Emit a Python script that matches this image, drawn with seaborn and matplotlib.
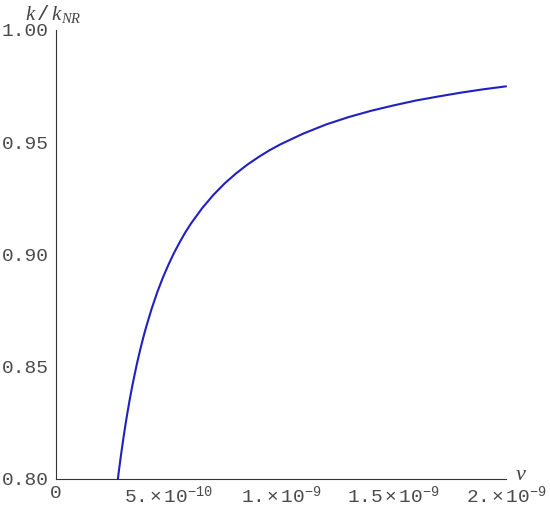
import matplotlib
matplotlib.use("Agg")
import matplotlib.pyplot as plt
from matplotlib.ticker import MultipleLocator
import pandas as pd
import seaborn as sns

# values (v in units of 1e-10)
v_e10 = [2.75, 2.8, 2.9, 3.0, 3.1, 3.2, 3.3, 3.4, 3.5, 3.6, 3.7, 3.8, 3.9, 4.0,
         4.25, 4.5, 4.75, 5.0, 5.25, 5.5, 5.75, 6.0, 6.5, 7.0, 7.5, 8.0, 8.5,
         9.0, 9.5, 10.0, 11.0, 12.0, 13.0, 14.0, 15.0, 16.0, 17.0, 18.0, 19.0, 20.0]
k_ratio = [0.800, 0.8040, 0.8115, 0.8185, 0.8250, 0.8310, 0.8367, 0.8419, 0.8468,
           0.8515, 0.8558, 0.8599, 0.8638, 0.8675, 0.8758, 0.8832, 0.8897, 0.8955,
           0.9008, 0.9055, 0.9099, 0.9138, 0.9207, 0.9266, 0.9317, 0.9361, 0.9400,
           0.9434, 0.9465, 0.9492, 0.9539, 0.9579, 0.9612, 0.9640, 0.9664, 0.9686,
           0.9704, 0.9721, 0.9736, 0.9749]

x_ticks = [0, 5e-10, 1e-9, 1.5e-9, 2e-9]
x_tick_labels = ["0", r"5.$\,$×$\,$10$^{-10}$", r"1.$\,$×$\,$10$^{-9}$",
                 r"1.5$\,$×$\,$10$^{-9}$", r"2.$\,$×$\,$10$^{-9}$"]
y_ticks = [0.80, 0.85, 0.90, 0.95, 1.00]
y_tick_labels = ["0.80", "0.85", "0.90", "0.95", "1.00"]

df = pd.DataFrame({"v": [x * 1e-10 for x in v_e10], "k": k_ratio})

sns.set_style("white")
plt.rcParams["font.family"] = ["Liberation Mono", "DejaVu Sans Mono"]
plt.rcParams["mathtext.fontset"] = "custom"
plt.rcParams["mathtext.rm"] = "Liberation Mono"
plt.rcParams["mathtext.it"] = "Liberation Serif:italic"

W, H = 550, 505
fig = plt.figure(figsize=(5.5, 5.05), dpi=100)
ax = fig.add_axes([56 / W, 1 - 479 / H, 450 / W, 449 / H])

sns.lineplot(data=df, x="v", y="k", ax=ax, color="#2020c0", linewidth=1.5)
for l in ax.lines:
    l.set_clip_on(False)

ax.set_xlim(0, 2e-9)
ax.set_ylim(0.8, 1.0)
ax.set_xticks(x_ticks, x_tick_labels)
ax.set_yticks(y_ticks, y_tick_labels)
ax.xaxis.set_minor_locator(MultipleLocator(1e-10))
ax.yaxis.set_minor_locator(MultipleLocator(0.01))
ax.tick_params(which="both", direction="in", colors="#333333", labelcolor="#4a4a4a",
               labelsize=14, width=0.8)
ax.tick_params(which="major", length=3.5)
ax.tick_params(which="minor", length=2)
ax.tick_params(axis="y", pad=5)
ax.tick_params(axis="x", pad=4)
ax.set_xlabel("")
ax.set_ylabel("")

for s in ["top", "right"]:
    ax.spines[s].set_visible(False)
for s in ["left", "bottom"]:
    ax.spines[s].set_color("#333333")
    ax.spines[s].set_linewidth(0.8)

fig.text(53 / W, 1 - 14 / H, r"$k\,/\,k_{NR}$", ha="center", va="center",
         fontsize=15, color="#444444")
fig.text(521 / W, 1 - 475 / H, r"$v$", ha="center", va="center",
         fontsize=16, color="#444444")

fig.savefig("out.png", dpi=100)
